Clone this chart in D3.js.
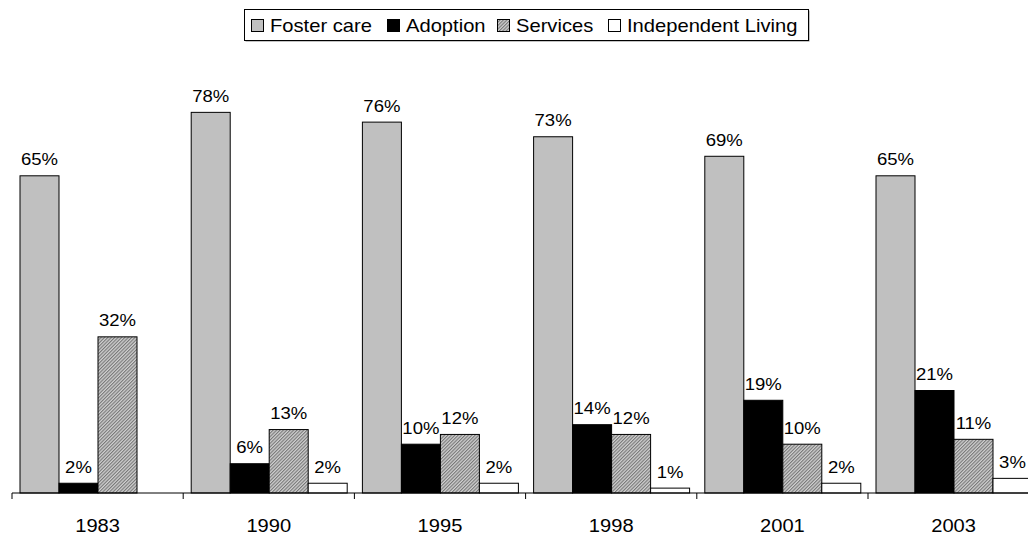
<!DOCTYPE html>
<html><head><meta charset="utf-8">
<script src="https://cdn.jsdelivr.net/npm/d3@7"></script>
<style>body{margin:0;background:#fff}svg{display:block}text{font-family:"Liberation Sans",Arial,sans-serif}</style>
</head><body>
<svg id="c" width="1028" height="538"></svg>
<script>
const years = ["1983","1990","1995","1998","2001","2003"];
const seriesNames = ["Foster care","Adoption","Services","Independent Living"];
const foster = [65,78,76,73,69,65];
const adoption = [2,6,10,14,19,21];
const services = [32,13,12,12,10,11];
const independent = [null,2,2,1,2,3];
const allSeries = [foster, adoption, services, independent];

const svg = d3.select("#c");
const defs = svg.append("defs");
const pat = defs.append("pattern").attr("id","hatch").attr("patternUnits","userSpaceOnUse")
  .attr("width",2.4).attr("height",2.4).attr("patternTransform","rotate(45)");
pat.append("rect").attr("width",2.4).attr("height",2.4).attr("fill","#d0d0d0");
pat.append("rect").attr("width",1.1).attr("height",2.4).attr("fill","#777");

const fills = ["#c0c0c0","#000000","url(#hatch)","#ffffff"];

const x0 = d3.scaleBand().domain(years).range([12, 12+6*171.2]);
const x1 = d3.scaleBand().domain(seriesNames).range([8, 164]);
const y = d3.scaleLinear().domain([0,100]).range([493, 5]);

const rows = [];
years.forEach((yr,i)=>seriesNames.forEach((s,j)=>{
  const v = allSeries[j][i];
  if (v!=null) rows.push({yr, s, j, v});
}));

const g = svg.append("g");
g.selectAll("rect.bar").data(rows).join("rect").attr("class","bar")
  .attr("x", d=>x0(d.yr)+x1(d.s)).attr("width", x1.bandwidth())
  .attr("y", d=>y(d.v)).attr("height", d=>y(0)-y(d.v))
  .attr("fill", d=>fills[d.j]).attr("stroke","#000").attr("stroke-width",1);

g.selectAll("text.lab").data(rows).join("text").attr("class","lab")
  .attr("transform", d=>`translate(${x0(d.yr)+x1(d.s)+x1.bandwidth()/2},${y(d.v)-10.5}) scale(1.09,1)`)
  .attr("text-anchor","middle")
  .attr("font-size",17).attr("fill","#000").text(d=>d.v+"%");

// axis
const ax = svg.append("g").attr("transform","translate(0,493)");
ax.append("line").attr("x1",12).attr("x2",1028).attr("stroke","#000");
ax.selectAll("line.tick").data(years).join("line").attr("class","tick")
  .attr("x1",d=>x0(d)).attr("x2",d=>x0(d)).attr("y1",0).attr("y2",6).attr("stroke","#000");
ax.selectAll("text").data(years).join("text")
  .attr("transform",d=>`translate(${x0(d)+x0.bandwidth()/2},39) scale(1.06,1)`)
  .attr("text-anchor","middle")
  .attr("font-size",19).text(d=>d);

// legend
const lg = svg.append("g");
lg.append("rect").attr("x",245.5).attr("y",10.5).attr("width",564).attr("height",31)
  .attr("fill","#888").attr("stroke","none");
lg.append("rect").attr("x",244.5).attr("y",9.5).attr("width",564).attr("height",31)
  .attr("fill","#fff").attr("stroke","#000");
const lx = [251,387,497,608];
seriesNames.forEach((s,j)=>{
  lg.append("rect").attr("x",lx[j]+0.5).attr("y",19.5).attr("width",12).attr("height",12)
    .attr("fill",fills[j]).attr("stroke","#000");
  lg.append("text").attr("transform",`translate(${lx[j]+19},32) scale(1.12,1)`)
    .attr("font-size",18).text(s);
});
</script>
</body></html>
